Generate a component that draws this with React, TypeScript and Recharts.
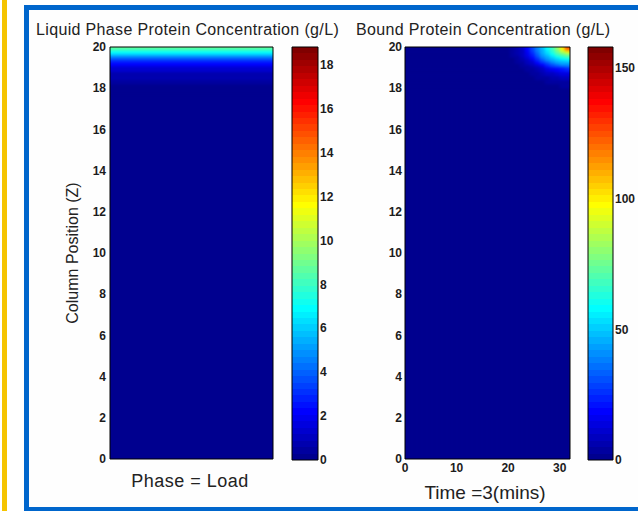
import React from 'react';
import { BarChart, Bar, Cell, XAxis, YAxis } from 'recharts';

const FONT = '"Liberation Sans", Arial, Helvetica, sans-serif';

// column position rows (Z), bottom to top
const zEdges = [0, 17.6, 17.8, 18.0, 18.2, 18.4, 18.6, 18.8, 19.0, 19.1, 19.2, 19.3, 19.4, 19.5, 19.6, 19.7, 19.8, 19.9, 20];
const zTicks = [0, 2, 4, 6, 8, 10, 12, 14, 16, 18, 20];

// liquid phase protein concentration (g/L) for each z row
const liquidConc = [0, 0.1, 0.18, 0.27, 0.4, 0.6, 0.85, 1.25, 1.7, 2.1, 2.6, 3.2, 4.0, 4.9, 5.9, 6.9, 7.8, 8.7];
const liquidMax = 18.8;
const liquidBarTicks = [0, 2, 4, 6, 8, 10, 12, 14, 16, 18];

// time columns (mins)
const timeCenters = [0.5, 1.5, 2.5, 3.5, 4.5, 5.5, 6.5, 7.5, 8.5, 9.5, 10.5, 11.5, 12.5, 13.5, 14.5, 15.5, 16.5,
  17.5, 18.5, 19.5, 20.5, 21.5, 22.5, 23.5, 24.5, 25.5, 26.5, 27.5, 28.5, 29.5, 30.5, 31.5, 32.5];
const timeTicks = [0, 10, 20, 30];
const timeMax = 33;

// bound protein concentration (g/L), rows bottom to top, values from time column 16 onwards
const boundFirstCol = 16;
const boundRows = [
  [0, 0, 0, 0, 0, 0, 0, 0, 0, 0, 0, 0, 0, 0, 0, 0, 0],
  [0, 0, 0, 0.05, 0.05, 0.1, 0.15, 0.22, 0.3, 0.38, 0.46, 0.55, 0.62, 0.72, 0.8, 0.88, 0.9],
  [0, 0, 0.05, 0.05, 0.1, 0.15, 0.25, 0.33, 0.45, 0.55, 0.7, 0.85, 1.0, 1.25, 1.4, 1.55, 1.6],
  [0, 0.05, 0.05, 0.1, 0.15, 0.25, 0.36, 0.5, 0.65, 0.85, 1.1, 1.45, 1.75, 2.0, 2.35, 2.6, 2.7],
  [0.05, 0.05, 0.1, 0.15, 0.25, 0.37, 0.5, 0.7, 0.95, 1.35, 1.8, 2.3, 2.9, 3.4, 4.0, 4.4, 4.6],
  [0.05, 0.08, 0.14, 0.22, 0.35, 0.5, 0.7, 1.05, 1.5, 2.0, 2.8, 3.7, 4.7, 5.8, 6.8, 7.6, 8.0],
  [0.05, 0.1, 0.2, 0.3, 0.5, 0.65, 1.0, 1.55, 2.2, 3.1, 4.4, 5.85, 7.8, 9.4, 11.3, 13, 13.9],
  [0.1, 0.15, 0.28, 0.4, 0.6, 0.9, 1.45, 2.1, 3.2, 4.7, 6.8, 9.2, 12.6, 16.2, 19, 21.9, 22.8],
  [0.1, 0.2, 0.33, 0.5, 0.75, 1.25, 1.9, 3.0, 4.6, 7.0, 9.8, 14.8, 19.8, 24.7, 28.7, 31.4, 32.8],
  [0.15, 0.25, 0.4, 0.6, 0.9, 1.55, 2.4, 3.8, 5.85, 9.0, 13.8, 19.7, 26, 31.4, 36, 39.6, 40.8],
  [0.15, 0.28, 0.45, 0.68, 1.1, 1.8, 2.95, 4.65, 7.5, 11.6, 17.9, 25.2, 31.9, 38.8, 42.7, 45.4, 46.8],
  [0.2, 0.3, 0.5, 0.75, 1.3, 2.05, 3.4, 5.6, 9.0, 14.8, 22.4, 30, 38, 43.5, 47.9, 51.7, 53.7],
  [0.2, 0.35, 0.55, 0.85, 1.5, 2.4, 4.0, 6.6, 10.5, 17.6, 26.1, 34.7, 42.3, 48.1, 54, 58.3, 60.7],
  [0.25, 0.4, 0.6, 1.0, 1.65, 2.8, 4.6, 7.8, 13, 21.1, 30.1, 39.7, 46.4, 53.9, 60.6, 66.6, 69.9],
  [0.25, 0.45, 0.6, 1.05, 1.8, 3.0, 5.1, 8.6, 14.9, 23.6, 33, 42.4, 50, 58.4, 66.7, 74, 78.2],
  [0.3, 0.45, 0.65, 1.1, 1.9, 3.3, 5.6, 9.3, 16.4, 25.8, 35.9, 44.6, 53.3, 62.5, 72.7, 82.4, 91.8],
  [0.3, 0.45, 0.7, 1.2, 1.95, 3.4, 5.8, 9.8, 17.4, 27.2, 38, 46, 55.7, 66, 77, 93, 109],
  [0.4, 0.5, 0.7, 1.2, 2, 3.5, 6, 10, 18, 28, 39, 47, 57, 68, 80, 100, 125],
];
const boundMax = 158;
const boundBarTicks = [0, 50, 100, 150];

// matlab jet(64)
function buildJet(m: number) {
  const n = Math.ceil(m / 4);
  const u: number[] = [];
  for (let i = 1; i <= n; i++) u.push(i / n);
  for (let i = 1; i < n; i++) u.push(1);
  for (let i = n; i >= 1; i--) u.push(i / n);
  const off = Math.ceil(n / 2) - (m % 4 === 1 ? 1 : 0);
  const rows = Array.from({ length: m }, () => [0, 0, 0]);
  u.forEach((v, i) => {
    const g = off + i + 1;
    const r = g + n;
    const b = g - n;
    if (g >= 1 && g <= m) rows[g - 1][1] = v;
    if (r >= 1 && r <= m) rows[r - 1][0] = v;
    if (b >= 1 && b <= m) rows[b - 1][2] = v;
  });
  return rows.map(([r, g, b]) => `rgb(${Math.round(r * 255)},${Math.round(g * 255)},${Math.round(b * 255)})`);
}
const JET = buildJet(64);
const colorOf = (v: number, max: number) =>
  JET[Math.max(0, Math.min(JET.length - 1, Math.floor((v / max) * JET.length)))];

const rowHeights = zEdges.slice(1).map((z, i) => Math.round((z - zEdges[i]) * 1000) / 1000);
const rowKeys = rowHeights.map((_, i) => `r${i}`);
const rowObj = () => {
  const o: Record<string, number> = {};
  rowHeights.forEach((h, i) => (o[rowKeys[i]] = h));
  return o;
};
const liquidTable = [{ col: 'c', ...rowObj() }];
const boundTable = timeCenters.map((t) => ({ t, ...rowObj() }));
const boundAt = (row: number, col: number) =>
  col < boundFirstCol ? 0 : boundRows[row][col - boundFirstCol];

const line = { stroke: '#000', strokeWidth: 1 };
const tickText = { fontSize: 12, fontWeight: 700, fill: '#1c1c1c', fontFamily: FONT };

// plot areas of the two maps
const LEFT_PLOT = { x: 110, y: 47, w: 163, h: 412 };
const RIGHT_PLOT = { x: 405, y: 47, w: 165, h: 412 };

function boxAxes(xDomain: number[], xTicks: number[] | null, yDomain: number[], yTicks: number[], size = 4) {
  const base = { mirror: true, tick: false as const, tickSize: size, axisLine: line, interval: 0 as const, allowDataOverflow: true };
  return [
    <XAxis key="bt" xAxisId="boxTop" orientation="top" type="number" domain={xDomain} ticks={xTicks ?? undefined} {...base} tickLine={xTicks ? line : false} />,
    <XAxis key="bb" xAxisId="boxBottom" orientation="bottom" type="number" domain={xDomain} ticks={xTicks ?? undefined} {...base} tickLine={xTicks ? line : false} />,
    <YAxis key="bl" yAxisId="boxLeft" orientation="left" type="number" domain={yDomain} ticks={yTicks} {...base} tickLine={line} />,
    <YAxis key="br" yAxisId="boxRight" orientation="right" type="number" domain={yDomain} ticks={yTicks} {...base} tickLine={line} />,
  ];
}

function smoothFilter(id: string, sx: number, sy: number) {
  return (
    <filter id={id} x="0" y="0" width="1" height="1" colorInterpolationFilters="sRGB">
      <feGaussianBlur stdDeviation={`${sx} ${sy}`} edgeMode="duplicate" />
      <feComponentTransfer>
        <feFuncA type="table" tableValues="1 1" />
      </feComponentTransfer>
    </filter>
  );
}

function jetGradient(id: string) {
  const n = JET.length;
  return (
    <linearGradient id={id} x1="0" y1="1" x2="0" y2="0">
      {JET.flatMap((c, i) => [
        <stop key={`${i}a`} offset={i / n} stopColor={c} />,
        <stop key={`${i}b`} offset={(i + 1) / n} stopColor={c} />,
      ])}
    </linearGradient>
  );
}

// colour cells only, sized to the plot area; axes are drawn by a chart on top
const LiquidMap = () => (
  <BarChart width={LEFT_PLOT.w} height={LEFT_PLOT.h} data={liquidTable} margin={{ top: 0, right: 0, bottom: 0, left: 0 }} barCategoryGap={0}>
    <XAxis dataKey="col" hide height={0} />
    <YAxis yAxisId="z" type="number" domain={[0, 20]} allowDataOverflow hide width={0} />
    {rowKeys.map((k, i) => {
      const c = colorOf(liquidConc[i], liquidMax);
      return <Bar key={k} dataKey={k} stackId="z" yAxisId="z" fill={c} stroke={c} strokeWidth={0.6} isAnimationActive={false} />;
    })}
  </BarChart>
);

const BoundMap = () => (
  <BarChart width={RIGHT_PLOT.w} height={RIGHT_PLOT.h} data={boundTable} margin={{ top: 0, right: 0, bottom: 0, left: 0 }} barCategoryGap={0}>
    <XAxis dataKey="t" hide height={0} />
    <YAxis yAxisId="z" type="number" domain={[0, 20]} allowDataOverflow hide width={0} />
    {rowKeys.map((k, i) => (
      <Bar key={k} dataKey={k} stackId="z" yAxisId="z" isAnimationActive={false}>
        {timeCenters.map((t, c) => {
          const fill = colorOf(boundAt(i, c), boundMax);
          return <Cell key={t} fill={fill} stroke={fill} strokeWidth={0.6} />;
        })}
      </Bar>
    ))}
  </BarChart>
);

const LiquidAxes = () => (
  <BarChart width={290} height={511} data={liquidTable} margin={{ top: 47, right: 17, bottom: 52, left: 60 }}>
    <YAxis
      yAxisId="z" type="number" domain={[0, 20]} ticks={zTicks} interval={0} allowDataOverflow width={50}
      tickSize={0} tickMargin={4} axisLine={false} tickLine={false} tick={tickText}
      label={{ value: 'Column Position (Z)', angle: -90, position: 'insideLeft', offset: 12,
        style: { textAnchor: 'middle', fontSize: 16, fill: '#222', fontFamily: FONT } }}
    />
    {boxAxes([0, 2], [1], [0, 20], zTicks)}
  </BarChart>
);

const BoundAxes = () => (
  <BarChart width={250} height={511} data={boundTable} margin={{ top: 47, right: 20, bottom: 32, left: 25 }}>
    <XAxis
      xAxisId="time" type="number" domain={[0, timeMax]} ticks={timeTicks} interval={0} allowDataOverflow height={20}
      tickSize={0} tickMargin={4} axisLine={false} tickLine={false} tick={tickText}
    />
    <YAxis
      yAxisId="z" type="number" domain={[0, 20]} ticks={zTicks} interval={0} allowDataOverflow width={40}
      tickSize={0} tickMargin={3} axisLine={false} tickLine={false} tick={tickText}
    />
    {boxAxes([0, timeMax], timeTicks, [0, 20], zTicks)}
  </BarChart>
);

const ColorBar = ({ id, max, ticks, width, axisWidth, left }: { id: string; max: number; ticks: number[]; width: number; axisWidth: number; left: number }) => (
  <BarChart width={width} height={511} data={[{ k: 'cb', v: max }]} margin={{ top: 47, right: 0, bottom: 51, left }} barCategoryGap={0}>
    <defs>{jetGradient(id)}</defs>
    <XAxis dataKey="k" hide height={0} />
    <YAxis
      yAxisId="v" orientation="right" type="number" domain={[0, max]} ticks={ticks} interval={0} allowDataOverflow width={axisWidth}
      tickSize={0} tickMargin={2} axisLine={false} tickLine={false} tick={tickText}
    />
    <Bar dataKey="v" yAxisId="v" fill={`url(#${id})`} isAnimationActive={false} />
    {boxAxes([0, 1], null, [0, max], ticks, 3)}
  </BarChart>
);

const abs = (left: number, top: number): React.CSSProperties => ({ position: 'absolute', left, top });
const plotBox = (p: { x: number; y: number; w: number; h: number }, filter: string): React.CSSProperties => ({
  position: 'absolute', left: p.x, top: p.y, width: p.w, height: p.h, overflow: 'hidden', filter: `url(#${filter})`,
});

export default function App() {
  return (
    <div style={{ position: 'absolute', left: 0, top: 0, width: 638, height: 511, background: '#fff', overflow: 'hidden', fontFamily: FONT, color: '#222' }}>
      <svg width={0} height={0} style={{ position: 'absolute' }}>
        <defs>
          {smoothFilter('smoothLiquid', 0.01, 1)}
          {smoothFilter('smoothBound', 1.8, 1)}
        </defs>
      </svg>
      <div style={{ ...abs(2, 0), width: 5, height: 511, background: '#f5c400' }} />
      <div style={{ ...abs(24, 5), width: 640, height: 507, boxSizing: 'border-box', border: '5px solid #0066cc', background: '#fefefe' }} />

      <div style={plotBox(LEFT_PLOT, 'smoothLiquid')}><LiquidMap /></div>
      <div style={plotBox(RIGHT_PLOT, 'smoothBound')}><BoundMap /></div>

      <div style={abs(0, 0)}><LiquidAxes /></div>
      <div style={abs(280, 0)}><ColorBar id="jetLiquid" max={liquidMax} ticks={liquidBarTicks} width={60} axisWidth={22} left={12} /></div>
      <div style={abs(340, 0)}><BoundAxes /></div>
      <div style={abs(575, 0)}><ColorBar id="jetBound" max={boundMax} ticks={boundBarTicks} width={63} axisWidth={25} left={13} /></div>

      <div style={{ ...abs(36, 21.5), fontSize: 16, lineHeight: 1, letterSpacing: 0.35, whiteSpace: 'nowrap' }}>
        Liquid Phase Protein Concentration (g/L)
      </div>
      <div style={{ ...abs(356, 21.5), fontSize: 16, lineHeight: 1, letterSpacing: 0.35, whiteSpace: 'nowrap' }}>
        Bound Protein Concentration (g/L)
      </div>
      <div style={{ ...abs(110, 472), width: 160, textAlign: 'center', fontSize: 18, lineHeight: 1, letterSpacing: 0.5, whiteSpace: 'nowrap' }}>
        Phase = Load
      </div>
      <div style={{ ...abs(405, 483), width: 160, textAlign: 'center', fontSize: 19, lineHeight: 1, whiteSpace: 'nowrap' }}>
        Time =3(mins)
      </div>
    </div>
  );
}
